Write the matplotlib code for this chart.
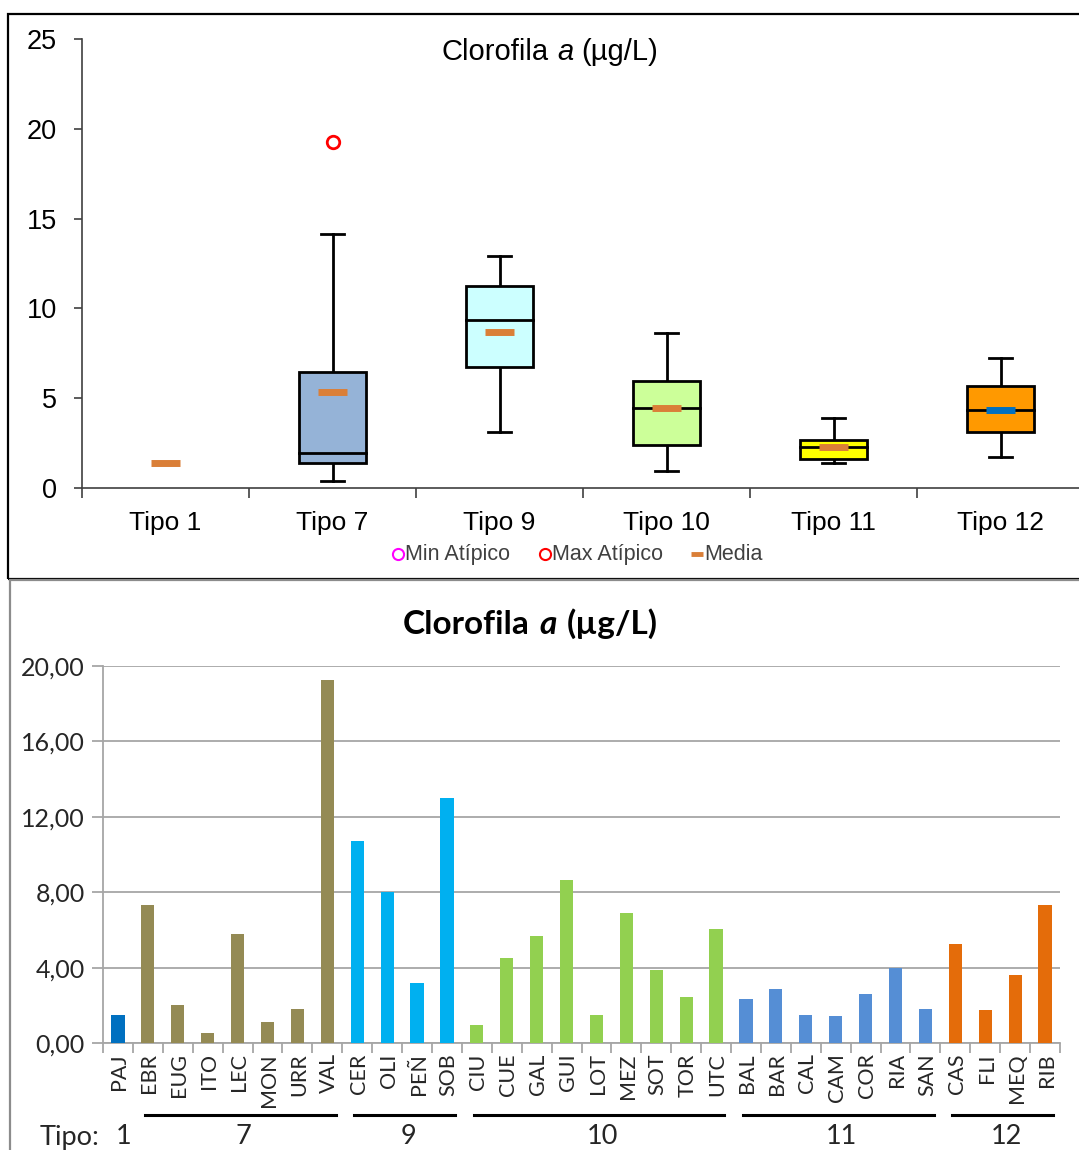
import matplotlib
matplotlib.use("Agg")
import matplotlib.pyplot as plt
from matplotlib.patches import Rectangle
from matplotlib.offsetbox import TextArea, HPacker, AnnotationBbox
from matplotlib.transforms import blended_transform_factory
import numpy as np

# ---- top chart: box plot per type ----
tipos = ["Tipo 1", "Tipo 7", "Tipo 9", "Tipo 10", "Tipo 11", "Tipo 12"]
q1 = [None, 1.40, 6.75, 2.40, 1.62, 3.12]
median = [None, 1.95, 9.35, 4.45, 2.28, 4.34]
q3 = [None, 6.45, 11.25, 5.96, 2.67, 5.68]
whisk_lo = [None, 0.40, 3.12, 0.95, 1.39, 1.73]
whisk_hi = [None, 14.15, 12.92, 8.63, 3.90, 7.24]
mean = [1.40, 5.35, 8.69, 4.45, 2.28, 4.34]
max_outlier = [None, 19.27, None, None, None, None]
box_colors = [None, "#95B3D7", "#CCFFFF", "#CCFF99", "#FFFF00", "#FF9900"]
mean_colors = ["#DA7F38", "#DA7F38", "#DA7F38", "#DA7F38", "#DA7F38", "#0070C0"]

# ---- bottom chart: bars per station ----
stations = ["PAJ", "EBR", "EUG", "ITO", "LEC", "MON", "URR", "VAL",
            "CER", "OLI", "PEÑ", "SOB",
            "CIU", "CUE", "GAL", "GUI", "LOT", "MEZ", "SOT", "TOR", "UTC",
            "BAL", "BAR", "CAL", "CAM", "COR", "RIA", "SAN",
            "CAS", "FLI", "MEQ", "RIB"]
chl = [1.48, 7.33, 2.03, 0.52, 5.77, 1.14, 1.80, 19.27,
       10.73, 8.02, 3.19, 13.00,
       0.94, 4.53, 5.69, 8.64, 1.48, 6.88, 3.85, 2.43, 6.04,
       2.36, 2.85, 1.48, 1.42, 2.58, 3.97, 1.82,
       5.25, 1.75, 3.60, 7.30]
station_tipo = ["1"] + ["7"] * 7 + ["9"] * 4 + ["10"] * 9 + ["11"] * 7 + ["12"] * 4
tipo_bar_colors = {"1": "#0070C0", "7": "#948A54", "9": "#00B0F0",
                   "10": "#92D050", "11": "#558ED5", "12": "#E46C0A"}

W, H = 1079, 1150
fig = plt.figure(figsize=(W / 100, H / 100), dpi=100)


def fx(px):
    return px / W


def fy(py):
    return 1 - py / H


# panel frames
fig.patches.append(Rectangle((fx(8), fy(579)), fx(1090) - fx(8), fy(14) - fy(579),
                             transform=fig.transFigure, fill=False, ec="black", lw=1.6, zorder=0))
fig.patches.append(Rectangle((fx(10), fy(1160)), fx(1090) - fx(10), fy(580) - fy(1160),
                             transform=fig.transFigure, fill=False, ec="#8C8C8C", lw=1.6, zorder=0))

# ================= top chart =================
ax1 = fig.add_axes([fx(82), fy(488), fx(1084) - fx(82), fy(39) - fy(488)])
ax1.set_xlim(0, len(tipos))
ax1.set_ylim(0, 25)
for s in ["top", "right"]:
    ax1.spines[s].set_visible(False)
for s in ["left", "bottom"]:
    ax1.spines[s].set_color("#404040")
    ax1.spines[s].set_linewidth(1.2)
ax1.set_yticks(np.arange(0, 26, 5))
ax1.tick_params(axis="y", direction="out", length=6, width=1.2, color="#404040",
                labelsize=19.5, pad=12, labelcolor="black")
ax1.set_xticks(np.arange(0, len(tipos) + 1))
ax1.set_xticklabels([])
ax1.tick_params(axis="x", direction="out", length=7, width=1.2, color="#404040")
for lab in ax1.get_yticklabels():
    lab.set_family("Liberation Sans")

bw = 0.4
cw = 0.07
for i in range(len(tipos)):
    c = i + 0.5
    if q1[i] is not None:
        ax1.plot([c, c], [whisk_lo[i], q1[i]], color="black", lw=2, zorder=2)
        ax1.plot([c, c], [q3[i], whisk_hi[i]], color="black", lw=2, zorder=2)
        ax1.plot([c - cw, c + cw], [whisk_lo[i]] * 2, color="black", lw=2, zorder=2)
        ax1.plot([c - cw, c + cw], [whisk_hi[i]] * 2, color="black", lw=2, zorder=2)
        ax1.add_patch(Rectangle((c - bw / 2, q1[i]), bw, q3[i] - q1[i],
                                fc=box_colors[i], ec="black", lw=2, zorder=3))
        ax1.plot([c - bw / 2, c + bw / 2], [median[i]] * 2, color="black", lw=2, zorder=4)
    ax1.plot([c - 0.085, c + 0.085], [mean[i]] * 2, color=mean_colors[i], lw=5,
             solid_capstyle="butt", zorder=5)
    if max_outlier[i] is not None:
        ax1.plot(c, max_outlier[i], "o", ms=9, mfc="white", mec="#FF0000", mew=2, zorder=5)
    ax1.text(c, -1.3, tipos[i], ha="center", va="top", fontsize=19,
             family="Liberation Sans", color="black")

# title with italic a
t_props = dict(fontsize=21, family="Liberation Sans", color="black")
title1 = HPacker(children=[TextArea("Clorofila", textprops=t_props),
                           TextArea("a", textprops=dict(t_props, style="italic")),
                           TextArea("(µg/L)", textprops=t_props)],
                 align="baseline", pad=0, sep=6)
fig.add_artist(AnnotationBbox(title1, (fx(550), fy(52)), xycoords="figure fraction",
                              frameon=False, box_alignment=(0.5, 0.5)))

# legend
leg_y = fy(554)
leg_items = [("Min Atípico", "o", "#FF00FF", 398), ("Max Atípico", "o", "#FF0000", 545),
             ("Media", "_", "#DA7F38", 697)]
for lab, mk, col, xpx in leg_items:
    if mk == "o":
        fig.lines.append(plt.Line2D([fx(xpx)], [leg_y], marker="o", ms=8, mfc="white",
                                    mec=col, mew=1.5, transform=fig.transFigure))
    else:
        fig.lines.append(plt.Line2D([fx(xpx - 6), fx(xpx + 6)], [leg_y, leg_y], color=col,
                                    lw=3.5, solid_capstyle="butt", transform=fig.transFigure))
    fig.text(fx(xpx + 7), leg_y, lab, ha="left", va="center", fontsize=15.5,
             family="Liberation Sans", color="#404040")

# ================= bottom chart =================
ax2 = fig.add_axes([fx(103), fy(1043), fx(1060) - fx(103), fy(666) - fy(1043)])
n = len(stations)
x = np.arange(n)
ax2.bar(x, chl, width=0.44, color=[tipo_bar_colors[t] for t in station_tipo], zorder=3)
ax2.set_xlim(-0.5, n - 0.5)
ax2.set_ylim(0, 20)
ax2.set_yticks(np.arange(0, 21, 4))
ax2.set_yticklabels([f"{v:.2f}".replace(".", ",") for v in np.arange(0, 21, 4)])
ax2.yaxis.grid(True, color="#A6A6A6", lw=1.3, zorder=0)
for s in ["top", "right"]:
    ax2.spines[s].set_visible(False)
for s in ["left", "bottom"]:
    ax2.spines[s].set_color("#A6A6A6")
    ax2.spines[s].set_linewidth(1.3)
ax2.tick_params(axis="y", direction="out", length=8, width=1.3, color="#A6A6A6",
                labelsize=18, pad=5, labelcolor="#262626")
for lab in ax2.get_yticklabels():
    lab.set_family("Lato")
ax2.set_xticks(np.arange(-0.5, n, 1.0))
ax2.set_xticklabels([])
ax2.tick_params(axis="x", direction="out", length=7, width=1.3, color="#A6A6A6")
for i, st in enumerate(stations):
    ax2.text(i + 0.05, -0.55, st, rotation=90, ha="center", va="top", fontsize=15.5,
             family="Lato", color="#262626")

tb = dict(fontsize=24, family="Lato", weight="bold")
title2 = HPacker(children=[TextArea("Clorofila", textprops=tb),
                           TextArea("a", textprops=dict(tb, style="italic")),
                           TextArea("(µg/L)", textprops=tb)],
                 align="baseline", pad=0, sep=7)
fig.add_artist(AnnotationBbox(title2, (fx(530), fy(624)), xycoords="figure fraction",
                              frameon=False, box_alignment=(0.5, 0.5)))

# group underlines and type labels
trans = blended_transform_factory(ax2.transData, fig.transFigure)
group_order = ["1", "7", "9", "10", "11", "12"]
for g in group_order:
    idx = [i for i, t in enumerate(station_tipo) if t == g]
    lo, hi = idx[0], idx[-1]
    if len(idx) > 1:
        ax2.plot([lo - 0.1, hi + 0.28], [fy(1115)] * 2, color="black", lw=2.2,
                 transform=trans, clip_on=False)
    ax2.text((lo + hi) / 2 + 0.2, fy(1137), g, ha="center", va="center", fontsize=19.5,
             family="Lato", color="#262626", transform=trans)
fig.text(fx(40), fy(1137), "Tipo:", ha="left", va="center", fontsize=19.5,
         family="Lato", color="#262626")

fig.savefig("out.png", dpi=100)
